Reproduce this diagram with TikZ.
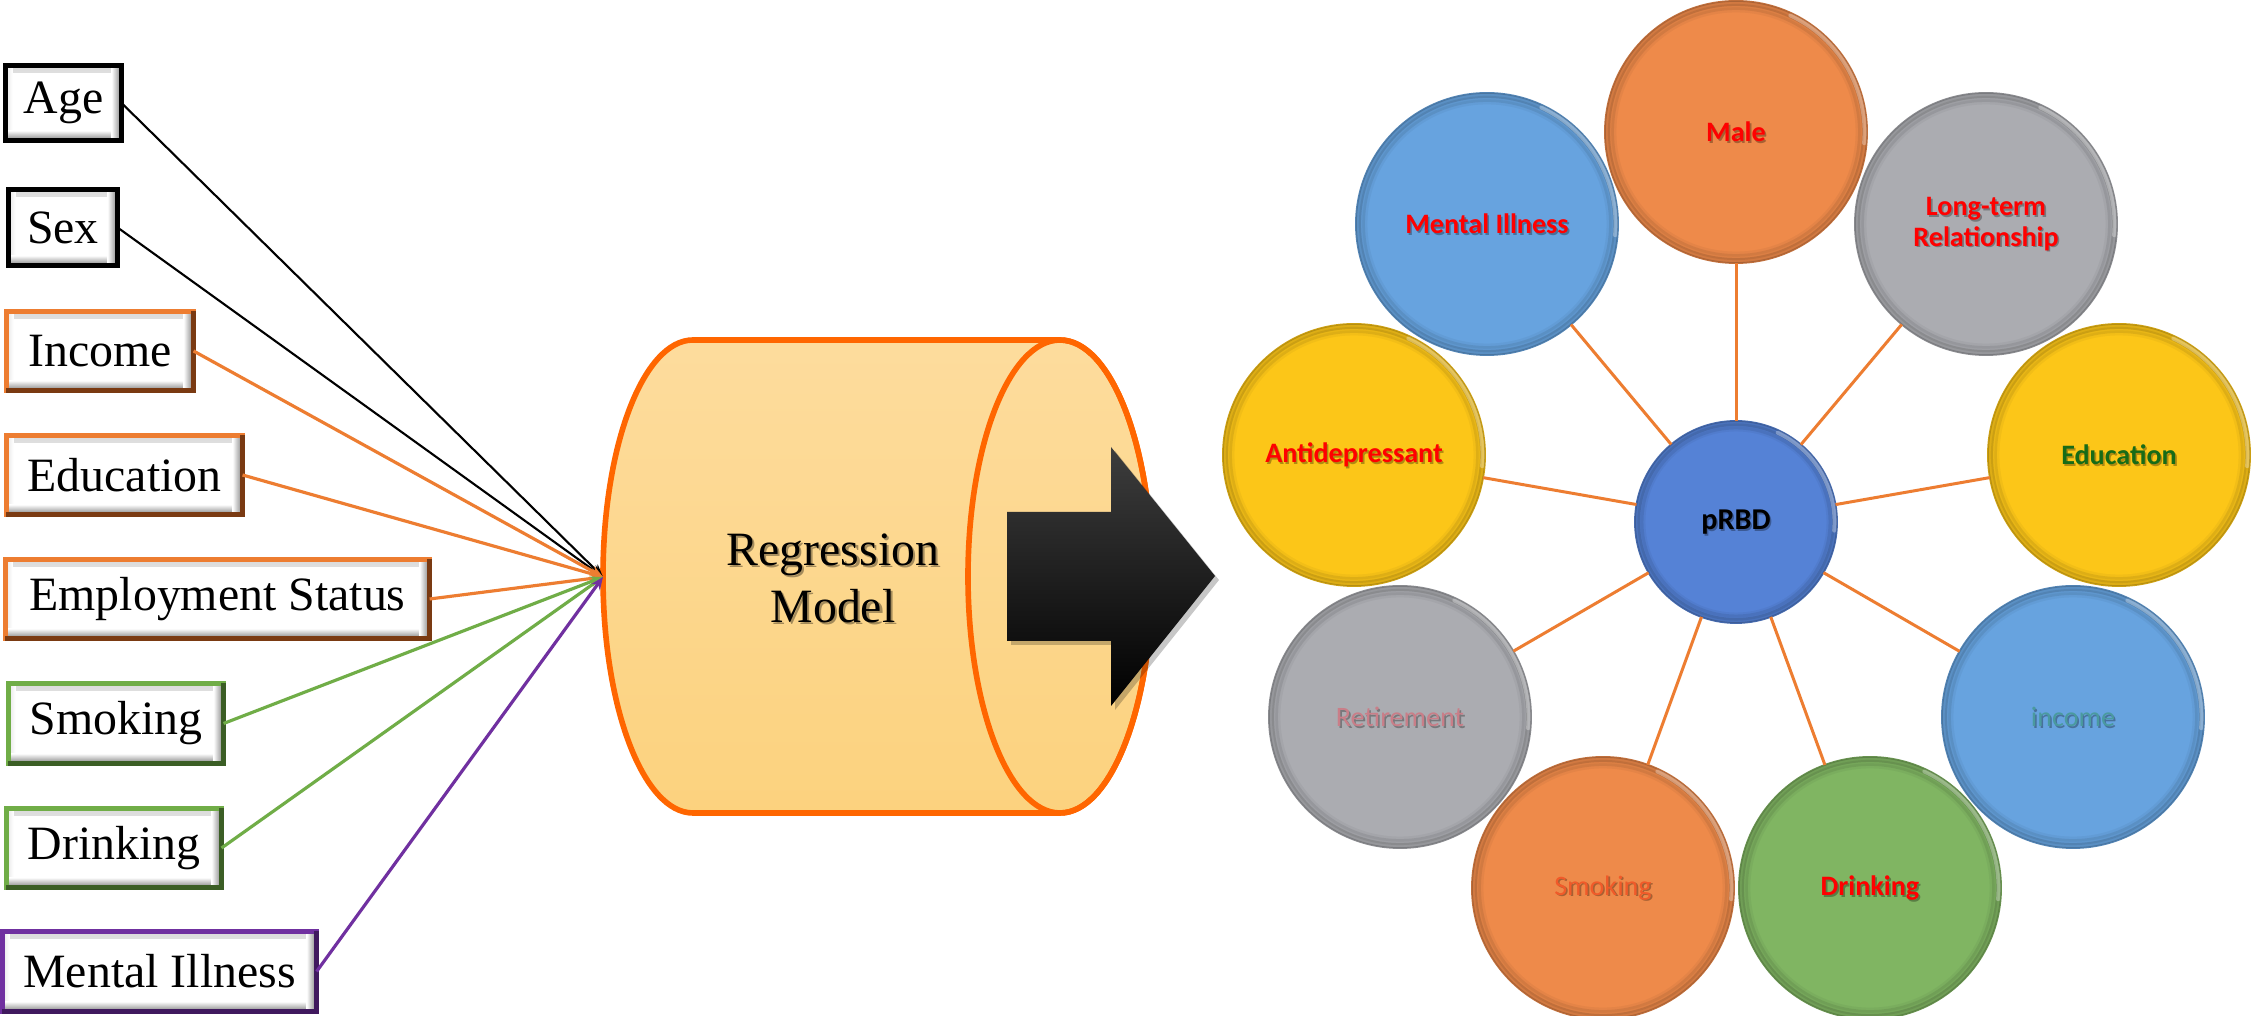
\documentclass[tikz,border=0pt]{standalone}
\usepackage{fontspec}
\setmainfont{Liberation Serif}
\newfontfamily\calibri{Carlito}
\usetikzlibrary{arrows.meta}

\definecolor{accorange}{HTML}{ED7D31}
\definecolor{accorangedk}{HTML}{7A3A12}
\definecolor{accgreen}{HTML}{70AD47}
\definecolor{accgreendk}{HTML}{3B5E25}
\definecolor{accpurple}{HTML}{7030A0}
\definecolor{accpurpledk}{HTML}{40195E}
\definecolor{cylfilltop}{HTML}{FDDC9D}
\definecolor{cylfillbot}{HTML}{FCD27E}
\definecolor{cylline}{HTML}{FF6600}
\definecolor{cblue}{HTML}{67A3DF}
\definecolor{corange}{HTML}{EE8A4A}
\definecolor{cgray}{HTML}{ABACB1}
\definecolor{cyellow}{HTML}{FCC618}
\definecolor{cgreen}{HTML}{80B562}
\definecolor{ccore}{HTML}{5582D6}
\definecolor{linkorange}{HTML}{ED7D31}
\definecolor{txtred}{HTML}{FF0000}
\definecolor{txtgreen}{HTML}{176B17}
\definecolor{txtretire}{HTML}{C97E88}
\definecolor{txtsmoke}{HTML}{F15A29}
\definecolor{txtincome}{HTML}{4A9A9F}

\begin{document}
\begin{tikzpicture}[x=0.01cm, y=-0.01cm,
  inbox/.style={rectangle, draw=#1, line width=1.5pt, fill=white, outer sep=0pt, inner sep=0pt,
    font=\fontsize{13.6}{16}\selectfont,
    path picture={
      \shade[top color=black!14, bottom color=white] (path picture bounding box.north west) rectangle ([yshift=-0.07cm]path picture bounding box.north east);
      \shade[left color=black!10, right color=white] (path picture bounding box.north west) rectangle ([xshift=0.07cm]path picture bounding box.south west);
      \shade[top color=white, bottom color=black!50] ([yshift=0.1cm]path picture bounding box.south west) rectangle (path picture bounding box.south east);
      \shade[left color=white, right color=black!50] ([xshift=-0.1cm]path picture bounding box.north east) rectangle (path picture bounding box.south east);
    }},
  feed/.style={-{Stealth[length=3.6pt,width=3pt]}, line width=#1},
  bub/.style={circle, fill=#1, draw=#1!82!black, line width=0.5pt, minimum size=2.62cm, inner sep=0pt, outer sep=0pt},
  link/.style={draw=linkorange, line width=0.85pt},
  bubbold/.style={font=\calibri\bfseries\fontsize{8}{8.6}\selectfont, align=center, text=#1},
  bubplain/.style={font=\calibri\fontsize{8}{8.6}\selectfont, align=center, text=#1},
  softshadow/.style={text=black, text opacity=0.3, xshift=0.45pt, yshift=-0.45pt},
]
\fill[white] (0,0) rectangle (2253,1016);
\useasboundingbox (0,0) rectangle (2253,1016);

% input variables
\node[inbox=black, minimum width=1.16cm, minimum height=0.75cm] (bage) at (63.5,103) {Age};
\node[inbox=black, minimum width=1.09cm, minimum height=0.76cm] (bsex) at (63,227.5) {Sex};
\node[inbox=accorange, minimum width=1.87cm, minimum height=0.79cm] (binc) at (100,351) {Income};
\node[inbox=accorange, minimum width=2.36cm, minimum height=0.79cm] (bedu) at (124.5,475) {Education};
\node[inbox=accorange, minimum width=4.24cm, minimum height=0.79cm] (bemp) at (217.5,599) {Employment Status};
\node[inbox=accgreen, minimum width=2.15cm, minimum height=0.80cm] (bsmk) at (116,723.5) {Smoking};
\node[inbox=accgreen, minimum width=2.15cm, minimum height=0.79cm] (bdrk) at (114,848) {Drinking};
\node[inbox=accpurple, minimum width=3.14cm, minimum height=0.80cm] (bmen) at (159.5,971.5) {Mental Illness};

% darker lower and right frame edges
\foreach \n/\c in {binc/accorangedk, bedu/accorangedk, bemp/accorangedk, bsmk/accgreendk, bdrk/accgreendk, bmen/accpurpledk}
  \draw[\c, line width=1.5pt] (\n.north east) -- (\n.south east) -- (\n.south west);

% regression model cylinder
\path[top color=cylfilltop, bottom color=cylfillbot]
  (693,340) -- (1060,340) arc[start angle=-90, end angle=90, x radius=92, y radius=236.5]
  -- (693,813) arc[start angle=90, end angle=270, x radius=90, y radius=236.5] -- cycle;
\draw[cylline, line width=1.6pt]
  (693,340) -- (1060,340) arc[start angle=-90, end angle=90, x radius=92, y radius=236.5]
  -- (693,813) arc[start angle=90, end angle=270, x radius=90, y radius=236.5] -- cycle;
\draw[cylline, line width=1.6pt] (1060,576.5) ellipse[x radius=92, y radius=236.5];
\coordinate (cylin) at (603,577);

\node[font=\fontsize{13.6}{16.2}\selectfont, align=center, text=black, text opacity=0.35, xshift=0.6pt, yshift=-0.6pt] (regsh) at (833,578) {Regression\\Model};
\node[font=\fontsize{13.6}{16.2}\selectfont, align=center] (reg) at (833,578) {Regression\\Model};

% connectors into the model
\draw[feed=0.6pt, black] (bage.east) -- (cylin);
\draw[feed=0.6pt, black] (bsex.east) -- (cylin);
\draw[feed=0.9pt, accorange] (binc.east) -- (cylin);
\draw[feed=0.9pt, accorange] (bedu.east) -- (cylin);
\draw[feed=0.9pt, accorange] (bemp.east) -- (cylin);
\draw[feed=0.9pt, accgreen] (bsmk.east) -- (cylin);
\draw[feed=0.9pt, accgreen] (bdrk.east) -- (cylin);
\draw[feed=0.9pt, accpurple] (bmen.east) -- (cylin);

% block arrow
\begin{scope}[shift={(4,4)}]
\fill[black, opacity=0.22] (1007,512) -- (1111,512) -- (1111,447) -- (1215,576) -- (1111,706) -- (1111,641) -- (1007,641) -- cycle;
\end{scope}
\path[top color=black!76, middle color=black, bottom color=black]
  (1007,512) -- (1111,512) -- (1111,447) -- (1215,576) -- (1111,706) -- (1111,641) -- (1007,641) -- cycle;

% result bubbles
\node[bub=corange] (male) at (1736,132) {};
\node[bub=cblue] (mi) at (1487,224) {};
\node[bub=cgray] (ltr) at (1986,224) {};
\node[bub=cyellow] (anti) at (1354,455) {};
\node[bub=cyellow] (educ) at (2119,455) {};
\node[bub=cgray] (reti) at (1400,717) {};
\node[bub=cblue] (inc) at (2073,717) {};
\node[bub=corange] (smok) at (1603,888) {};
\node[bub=cgreen] (drnk) at (1870,888) {};
\node[bub=ccore, minimum size=2.02cm] (prbd) at (1736,522) {};

% bevelled rims: darker inner band and a soft light edge at the upper right
\foreach \n/\ra/\rb/\rc in {male/1.285cm/1.25cm/1.22cm, mi/1.285cm/1.25cm/1.22cm, ltr/1.285cm/1.25cm/1.22cm,
    anti/1.285cm/1.25cm/1.22cm, educ/1.285cm/1.25cm/1.22cm, reti/1.285cm/1.25cm/1.22cm,
    inc/1.285cm/1.25cm/1.22cm, smok/1.285cm/1.25cm/1.22cm, drnk/1.285cm/1.25cm/1.22cm,
    prbd/0.985cm/0.955cm/0.93cm} {
  \draw[black, opacity=0.12, line width=0.05cm] (\n.center) circle[radius=\ra];
  \draw[black, opacity=0.08, line width=0.06cm] (\n.center) circle[radius=\rb];
  \draw[black, opacity=0.04, line width=0.05cm] (\n.center) circle[radius=\rc];
  \draw[white, opacity=0.3, line width=0.04cm, line cap=round] (\n.center) ++(-5:\ra) arc[start angle=-5, end angle=65, radius=\ra];
}

% spokes from the centre
\foreach \n in {male, mi, ltr, anti, educ, reti, inc, smok, drnk}
  \draw[link] (prbd) -- (\n);

% bubble labels
\node[bubbold=black, softshadow] (malesh) at (male) {Male};
\node[bubbold=txtred] (malet) at (male) {Male};
\node[bubbold=black, softshadow] (mish) at (mi) {Mental Illness};
\node[bubbold=txtred] (mit) at (mi) {Mental Illness};
\node[bubbold=black, softshadow] (ltrsh) at (ltr) {Long-term\\Relationship};
\node[bubbold=txtred] (ltrt) at (ltr) {Long-term\\Relationship};
\node[bubbold=black, softshadow] (antish) at (anti) {Antidepressant};
\node[bubbold=txtred] (antit) at (anti) {Antidepressant};
\node[bubbold=black, softshadow] (educsh) at (educ) {Education};
\node[bubbold=txtgreen] (educt) at (educ) {Education};
\node[bubbold=black, softshadow, font=\calibri\bfseries\fontsize{8.6}{9}\selectfont] (prbdsh) at (prbd) {pRBD};
\node[bubbold=black, font=\calibri\bfseries\fontsize{8.6}{9}\selectfont] (prbdt) at (prbd) {pRBD};
\node[bubplain=black, softshadow] (retish) at (reti) {Retirement};
\node[bubplain=txtretire] (retit) at (reti) {Retirement};
\node[bubplain=black, softshadow] (incsh) at (inc) {income};
\node[bubplain=txtincome] (inct) at (inc) {income};
\node[bubplain=black, softshadow] (smoksh) at (smok) {Smoking};
\node[bubplain=txtsmoke] (smokt) at (smok) {Smoking};
\node[bubbold=black, softshadow] (drnksh) at (drnk) {Drinking};
\node[bubbold=txtred] (drnkt) at (drnk) {Drinking};
\end{tikzpicture}
\end{document}
